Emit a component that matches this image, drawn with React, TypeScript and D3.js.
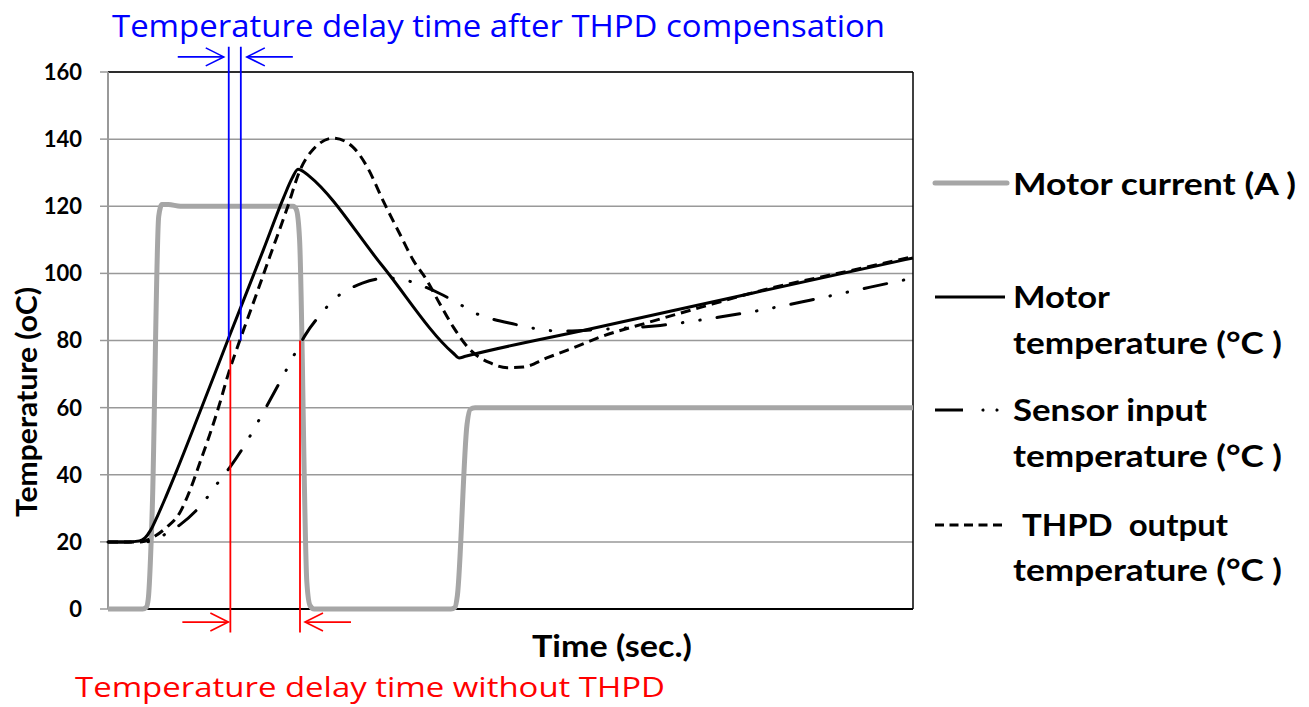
import React from "react";
import * as d3 from "d3";

// time axis is unitless (0..100), temperatures in °C, current in A
const yTicks = [0, 20, 40, 60, 80, 100, 120, 140, 160];

const currentT = [0, 4.3, 4.75, 5.0, 5.5, 6.3, 6.7, 7.5, 9, 23.0, 23.4, 23.8, 24.7, 25.1, 25.6, 42.6, 43.1, 43.4, 44.6, 45.0, 45.6, 100];
const currentA = [0, 0, 0.5, 3, 30, 117, 120.5, 120.5, 120, 120, 119, 110, 8, 1, 0, 0, 0.5, 4, 55, 59.5, 60, 60];

const motorT = [0, 2.5, 3.9, 4.6, 5.3, 6.2, 7.2, 8.5, 11.4, 14.9, 19.3, 21.8, 22.9, 23.6, 24.3, 25.0, 34.0, 42.9, 43.6, 44.4, 60, 80, 100];
const motorV = [20, 20, 20.3, 21.2, 23.5, 28, 33.5, 41, 58.6, 80.2, 107, 122.5, 128.5, 131, 130.3, 129, 102.5, 76.2, 74.8, 75.3, 83.5, 94.1, 104.6];

const sensorT = [0, 4.5, 5.8, 7.3, 8.9, 11.4, 13.9, 15.2, 17.0, 19.1, 21.7, 23.6, 24.5, 26.7, 28.0, 29.7, 31.6, 34.7, 36.9, 38.8, 41.2, 43.7, 45.3, 47.3, 50.6, 53.7, 56.1, 61.1, 68.6, 76.0, 81.0, 87.2, 94.7, 100];
const sensorV = [20, 20, 20.5, 22.6, 25, 30.5, 38.4, 42.4, 48.9, 57.8, 69.2, 77.8, 81.6, 88.6, 92.1, 95, 97.1, 98.6, 98, 96.5, 94, 90.8, 88.5, 86.7, 84.8, 83.3, 82.8, 83.3, 84.5, 87, 89, 92, 95.9, 98.6];

const thpdT = [0, 4.0, 5.6, 7.3, 8.9, 10.2, 11.4, 12.7, 13.9, 14.9, 16.4, 18.5, 20.1, 22.2, 23.9, 25.5, 28.0, 30.4, 32.2, 34.2, 36.3, 37.9, 39.6, 41.2, 42.9, 45.0, 47.5, 49.6, 51.6, 54.5, 57.8, 61.1, 67.3, 73.5, 81.0, 92.2, 100];
const thpdV = [20, 20, 21.4, 24.4, 28.6, 35.5, 43.5, 52.4, 61.4, 69.7, 80.2, 94.2, 105, 119, 131, 137, 140.3, 137.7, 131.7, 121.5, 111.5, 104, 98, 91, 84, 77.2, 73.3, 71.9, 72.1, 74.8, 77.8, 81, 85.5, 89.8, 94.8, 100.8, 105];

// delay markers (time at which lines reach the 80 °C level)
const markerLevel = 80;
const blueMarkers = [15.0, 16.5];
const redMarkers = [15.2, 23.85];

const FONT = "Lato, 'Open Sans', sans-serif";
const NOTE_FONT = "'Open Sans', 'Noto Sans', sans-serif";

type Pt = { t: number; v: number };
const zip = (ts: number[], vs: number[]): Pt[] => ts.map((t, i) => ({ t, v: vs[i] }));

const App: React.FC = () => {
  const width = 1309;
  const height = 707;
  const margin = { top: 72, right: 396, bottom: 98, left: 108 };
  const innerW = width - margin.left - margin.right;

  const x = d3.scaleLinear().domain([0, 100]).range([margin.left, margin.left + innerW]);
  const y = d3.scaleLinear().domain([0, 160]).range([height - margin.bottom, margin.top]);

  const line = d3
    .line<Pt>()
    .x((d) => x(d.t))
    .y((d) => y(d.v))
    .curve(d3.curveMonotoneX);

  const x0 = x(0);
  const x1 = x(100);
  const yTop = y(160);
  const yBot = y(0);

  const arrow = (tipX: number, yy: number, dir: number, color: string, key: string) => {
    // dir = 1 : arrow pointing right, -1 : pointing left
    const tail = tipX - dir * 46;
    const head = tipX - dir * 18;
    return (
      <g key={key} stroke={color} strokeWidth={1.6} fill="none">
        <line x1={tail} x2={tipX} y1={yy} y2={yy} />
        <polyline points={`${head},${yy - 9} ${tipX},${yy} ${head},${yy + 9}`} />
      </g>
    );
  };

  const blueTop = y(167.5);
  const blueArrowY = y(164.5);
  const redBottom = y(-7);
  const redArrowY = y(-3.9);

  const legendX = 935;
  const textX = 1013;

  return (
    <svg
      width={width}
      height={height}
      style={{ position: "absolute", left: 0, top: 0, background: "#fff" }}
      fontFamily={FONT}
    >
      {/* grid */}
      {yTicks.map((v) => (
        <g key={v}>
          <line x1={x0} x2={x1} y1={y(v)} y2={y(v)} stroke="#999" strokeWidth={1.5} />
          <line x1={x0 - 8} x2={x0} y1={y(v)} y2={y(v)} stroke="#999" strokeWidth={1.5} />
          <text
            x={82}
            y={y(v)}
            dy="0.36em"
            textAnchor="end"
            fontWeight="bold"
            fontSize={22}
            fill="#000"
          >
            {v}
          </text>
        </g>
      ))}
      {/* frame */}
      <line x1={x0} x2={x1} y1={yTop} y2={yTop} stroke="#000" strokeWidth={1.5} />
      <line x1={x1} x2={x1} y1={yTop} y2={yBot} stroke="#000" strokeWidth={1.5} />
      <line x1={x0} x2={x1} y1={yBot} y2={yBot} stroke="#000" strokeWidth={2} />
      <line x1={x0} x2={x0} y1={yTop} y2={yBot} stroke="#999" strokeWidth={2} />

      {/* series */}
      <path d={line(zip(currentT, currentA)) || ""} fill="none" stroke="#a6a6a6" strokeWidth={5} strokeLinejoin="round" />
      <path d={line(zip(motorT, motorV)) || ""} fill="none" stroke="#000" strokeWidth={3} strokeLinejoin="round" />
      <path
        d={line(zip(sensorT, sensorV)) || ""}
        fill="none"
        stroke="#000"
        strokeWidth={3}
        strokeDasharray="23 17 0.5 17 0.5 17"
        strokeLinecap="round"
      />
      <path
        d={line(zip(thpdT, thpdV)) || ""}
        fill="none"
        stroke="#000"
        strokeWidth={3}
        strokeDasharray="10 6"
      />

      {/* blue: delay after THPD compensation */}
      {blueMarkers.map((t, i) => (
        <line key={"b" + i} x1={x(t)} x2={x(t)} y1={blueTop} y2={y(markerLevel)} stroke="#0000ff" strokeWidth={1.8} />
      ))}
      {arrow(x(blueMarkers[0]) - 5, blueArrowY, 1, "#0000ff", "ba")}
      {arrow(x(blueMarkers[1]) + 6, blueArrowY, -1, "#0000ff", "bb")}

      {/* red: delay without THPD */}
      {redMarkers.map((t, i) => (
        <line key={"r" + i} x1={x(t)} x2={x(t)} y1={y(markerLevel)} y2={redBottom} stroke="#ff0000" strokeWidth={1.8} />
      ))}
      {arrow(x(redMarkers[0]) - 2, redArrowY, 1, "#ff0000", "ra")}
      {arrow(x(redMarkers[1]) + 5, redArrowY, -1, "#ff0000", "rb")}

      {/* titles */}
      <text x={112} y={37} fontFamily={NOTE_FONT} fontSize={31} fill="#0000ff" textLength={773} lengthAdjust="spacingAndGlyphs">
        Temperature delay time after THPD compensation
      </text>
      <text x={75} y={697} fontFamily={NOTE_FONT} fontSize={28} fill="#ff0000" textLength={590} lengthAdjust="spacingAndGlyphs">
        Temperature delay time without THPD
      </text>
      <text x={532} y={657} fontSize={31} fontWeight="bold" textLength={160} lengthAdjust="spacingAndGlyphs">
        Time (sec.)
      </text>
      <text
        transform={`translate(37,402) rotate(-90)`}
        textAnchor="middle"
        fontSize={29}
        fontWeight="bold"
        textLength={230}
        lengthAdjust="spacingAndGlyphs"
      >
        Temperature (oC)
      </text>

      {/* legend */}
      <g fontWeight="bold" fontSize={30} fill="#000">
        <line x1={legendX} x2={1007} y1={183} y2={183} stroke="#a6a6a6" strokeWidth={5} strokeLinecap="round" />
        <text x={textX} y={195} textLength={283} lengthAdjust="spacingAndGlyphs">Motor current (A )</text>

        <line x1={legendX} x2={1005} y1={297} y2={297} stroke="#000" strokeWidth={3} />
        <text x={textX} y={308} textLength={97} lengthAdjust="spacingAndGlyphs">Motor</text>
        <text x={textX} y={354} textLength={269} lengthAdjust="spacingAndGlyphs">temperature (°C )</text>

        <line
          x1={legendX}
          x2={1005}
          y1={410}
          y2={410}
          stroke="#000"
          strokeWidth={3}
          strokeDasharray="28 20 0.5 13 0.5 40"
          strokeLinecap="butt"
        />
        <circle cx={983} cy={410} r={1.6} fill="#000" />
        <circle cx={997} cy={410} r={1.6} fill="#000" />
        <text x={textX} y={421} textLength={194} lengthAdjust="spacingAndGlyphs">Sensor input</text>
        <text x={textX} y={467} textLength={269} lengthAdjust="spacingAndGlyphs">temperature (°C )</text>

        <line x1={legendX} x2={1006} y1={525} y2={525} stroke="#000" strokeWidth={3} strokeDasharray="9 5.5" />
        <text x={1022} y={536} textLength={206} lengthAdjust="spacingAndGlyphs" style={{ whiteSpace: "pre" }}>
          THPD  output
        </text>
        <text x={textX} y={581} textLength={269} lengthAdjust="spacingAndGlyphs">temperature (°C )</text>
      </g>
    </svg>
  );
};

export default App;
